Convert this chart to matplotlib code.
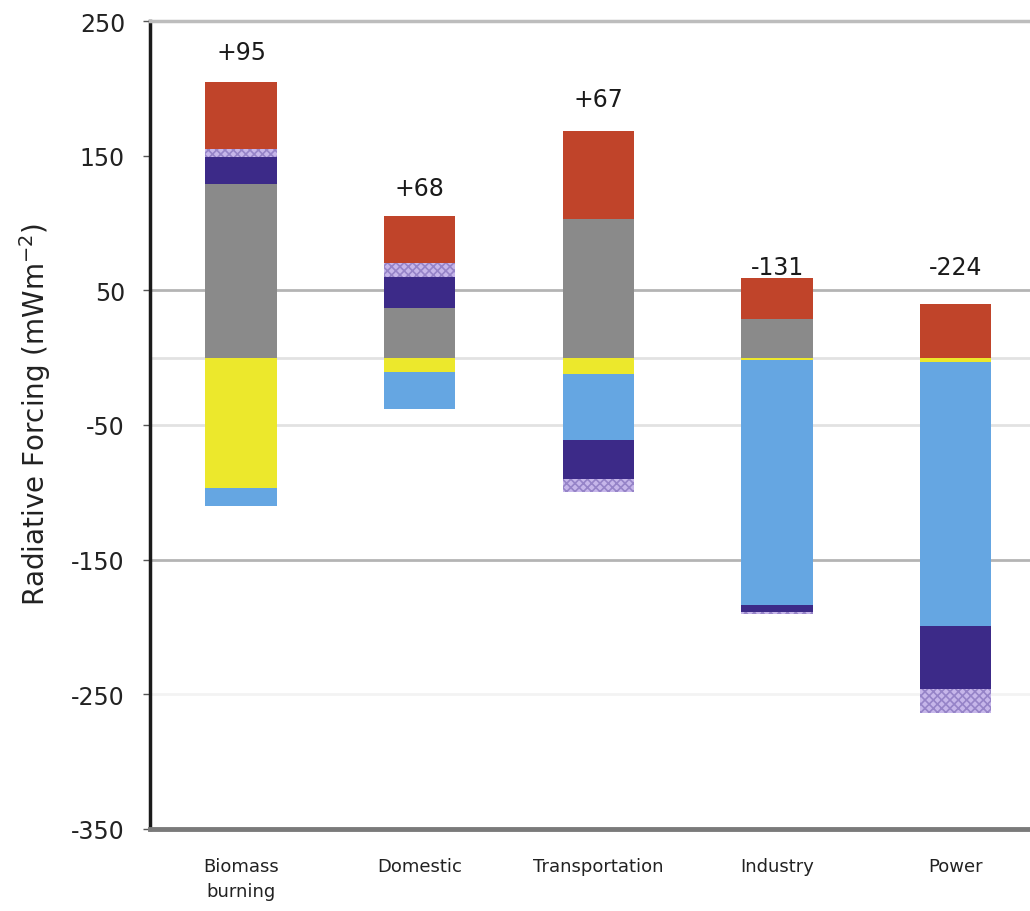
import matplotlib
matplotlib.use("Agg")
import matplotlib.pyplot as plt
import numpy as np

plt.rcParams['hatch.linewidth'] = 1.2
plt.rcParams['axes.unicode_minus'] = False

categories = ["Biomass\nburning", "Domestic", "Transportation", "Industry", "Power"]
# stacked component values (mW m-2), series in stacking order
grey_vals   = [129, 37, 103, 29, 0]
yellow_vals = [-97, -11, -12, -2, -3]
blue_vals   = [-13, -27, -49, -182, -196]
purple_vals = [20, 23, -29, -5, -47]
hatch_vals  = [6, 10, -10, -1, -18]
red_vals    = [50, 35, 65, 30, 40]
net_labels  = ["+95", "+68", "+67", "-131", "-224"]
label_y     = [227, 126, 192, 67, 67]

series = [
    (grey_vals,   dict(color="#8a8a8a")),
    (yellow_vals, dict(color="#ece82c")),
    (blue_vals,   dict(color="#65a6e2")),
    (purple_vals, dict(color="#3c2a88")),
    (hatch_vals,  dict(color="#c6b6ea", hatch="xxxx", edgecolor="#9684c8", linewidth=0)),
    (red_vals,    dict(color="#c0442a")),
]

W, H = 1030, 912
fig = plt.figure(figsize=(W/100, H/100), dpi=100)
ax = fig.add_axes([150/W, (H-830)/H, (1045-150)/W, 808/H])

x = np.arange(len(categories))
pos_base = np.zeros(len(categories))
neg_base = np.zeros(len(categories))
bw = 0.40
for vals, style in series:
    v = np.array(vals, dtype=float)
    bottoms = np.where(v >= 0, pos_base, neg_base)
    ax.bar(x, v, bw, bottom=bottoms, zorder=3, **style)
    pos_base = np.where(v >= 0, pos_base + v, pos_base)
    neg_base = np.where(v < 0, neg_base + v, neg_base)

for xi, t, yy in zip(x, net_labels, label_y):
    ax.text(xi, yy, t, ha="center", va="center", fontsize=17, color="#1a1a1a", zorder=4)

ax.set_ylim(-350, 250)
ax.set_xlim(-0.51, 4.5)
ax.set_yticks([250, 150, 50, -50, -150, -250, -350])
ax.tick_params(axis="y", labelsize=17, labelcolor="#222222", length=5, width=1, color="#555555", pad=13)
ax.set_xticks(x)
ax.set_xticklabels(categories, fontsize=13, color="#222222", linespacing=1.5)
ax.tick_params(axis="x", length=0, pad=20)

# gridlines
for yv, col, lw in [(50, "#b4b4b4", 2.0), (-150, "#b4b4b4", 2.0),
                    (0, "#e2e2e2", 2.0), (-50, "#e2e2e2", 2.0), (-250, "#f3f3f3", 2.0)]:
    ax.axhline(yv, color=col, lw=lw, zorder=1)

ax.spines["right"].set_visible(False)
ax.spines["top"].set_color("#bdbdbd")
ax.spines["top"].set_linewidth(2.5)
ax.spines["left"].set_color("#1a1a1a")
ax.spines["left"].set_linewidth(2.5)
ax.spines["bottom"].set_color("#7a7a7a")
ax.spines["bottom"].set_linewidth(3.5)

ax.set_ylabel("Radiative Forcing (mWm$^{-2}$)", fontsize=20, color="#222222")
ax.yaxis.set_label_coords(-0.108, 0.515)

fig.savefig("out.png", dpi=100, facecolor="white")
